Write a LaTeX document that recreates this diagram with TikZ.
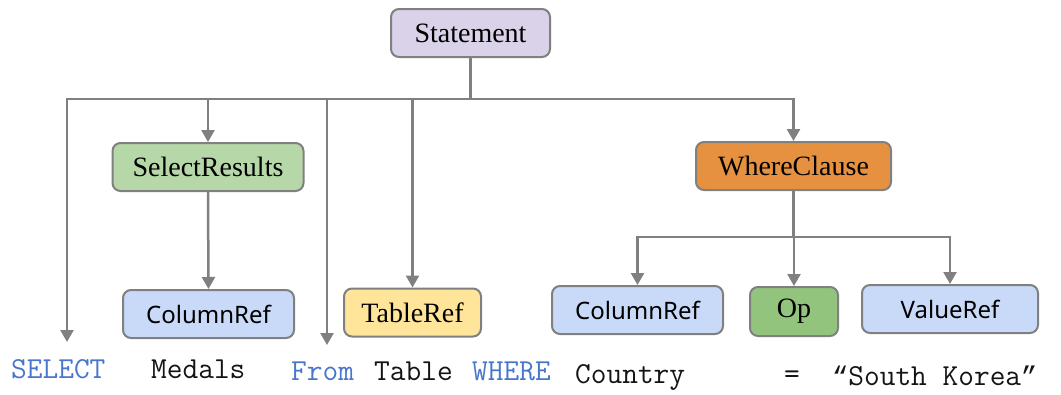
\documentclass[tikz,border=0pt]{standalone}
\usepackage{fontspec}
\setmainfont{Liberation Serif}
\newfontfamily\uisans{Noto Sans}
\newfontfamily\quotemono{Liberation Mono}
\usetikzlibrary{arrows.meta}
\definecolor{edgegray}{RGB}{128,128,128}
\definecolor{stmtfill}{RGB}{217,210,233}
\definecolor{selfill}{RGB}{182,215,168}
\definecolor{wherefill}{RGB}{230,145,64}
\definecolor{reffill}{RGB}{201,218,248}
\definecolor{tablefill}{RGB}{255,229,153}
\definecolor{opfill}{RGB}{147,196,125}
\definecolor{kwblue}{RGB}{72,118,204}
\definecolor{codeblack}{RGB}{20,20,20}
\newcommand{\curlyq}[1]{{\quotemono\fontsize{27}{30}\selectfont #1}}
\begin{document}
\begin{tikzpicture}[x=1pt,y=-1pt,
  box/.style={draw=edgegray, line width=2pt, rounded corners=8pt, inner sep=0pt,
    minimum height=48pt, font=\fontsize{28}{31}\selectfont},
  sansbox/.style={box, font=\uisans\fontsize{24}{28}\selectfont},
  wire/.style={draw=edgegray, line width=2.5pt},
  link/.style={wire, -{Triangle[width=13pt,length=12pt]}},
  code/.style={anchor=base west, inner sep=0pt, text=codeblack,
    font=\ttfamily\fontsize{30.5}{33}\selectfont},
  kw/.style={code, text=kwblue}]
\useasboundingbox (0,0) rectangle (1061,394);

% tree nodes
\node[box, fill=stmtfill, minimum width=159pt] (stmt) at (470.5,33) {Statement};
\node[box, fill=selfill, minimum width=191pt] (sel) at (208,167) {SelectResults};
\node[box, fill=wherefill, minimum width=195pt] (where) at (793.5,166) {WhereClause};
\node[sansbox, fill=reffill, minimum width=171pt] (colA) at (208.5,314) {ColumnRef};
\node[box, fill=tablefill, minimum width=137pt] (tab) at (412.5,312.5) {TableRef};
\node[sansbox, fill=reffill, minimum width=171pt] (colB) at (637.5,310) {ColumnRef};
\node[box, fill=opfill, minimum width=88pt, minimum height=49pt] (op) at (794,311.5) {Op};
\node[sansbox, fill=reffill, minimum width=176pt] (val) at (950,309) {ValueRef};

% free arrow ends above the keywords
\coordinate (hub) at (470.5,99);
\coordinate (selectEnd) at (67,342);
\coordinate (fromEnd) at (327,345);
\coordinate (whub) at (793.5,237);

% connectors from Statement
\draw[wire] (stmt.south) -- (hub);
\draw[link] (hub) -| (selectEnd);
\draw[link] (hub) -| (sel.north);
\draw[link] (hub) -| (fromEnd);
\draw[link] (hub) -| (tab.north);
\draw[link] (hub) -| (where.north);

% SelectResults
\draw[link] (sel.south) -- (colA.north);

% WhereClause
\draw[wire] (where.south) -- (whub);
\draw[link] (whub) -| (colB.north);
\draw[link] (whub) -| (op.north);
\draw[link] (whub) -| (val.north);

% query text
\node[kw] (kSelect) at (11,378) {SELECT};
\node[code] (tMedals) at (151,378) {Medals};
\node[kw] (kFrom) at (291,380) {From};
\node[code] (tTable) at (374,380) {Table};
\node[kw] (kWhere) at (472,380) {WHERE};
\node[code] (tCountry) at (575,383) {Country};
\node[code] (tEq) at (784,383) {=};
\node[code] (tValue) at (832,385) {\curlyq{“}South Korea\curlyq{”}};
\end{tikzpicture}
\end{document}
